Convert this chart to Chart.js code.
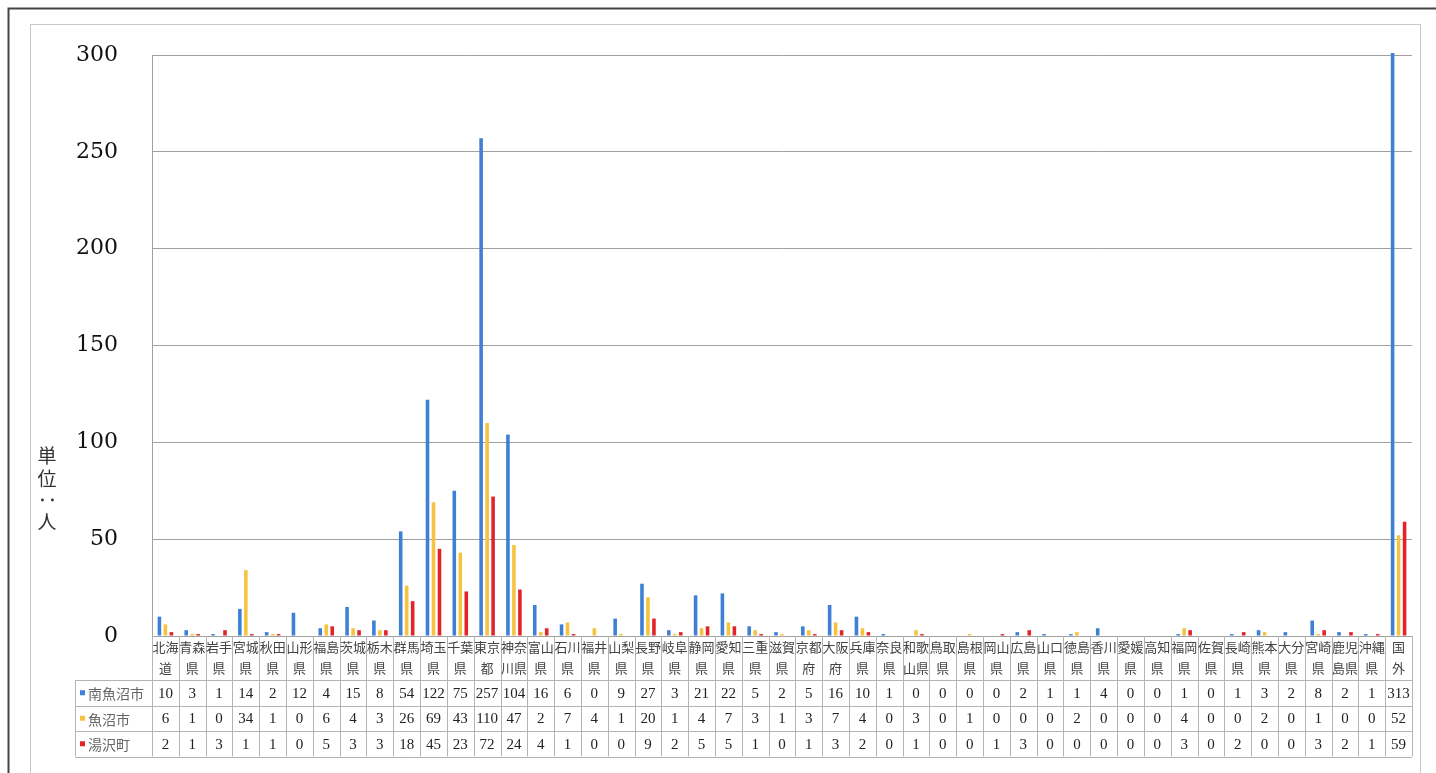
<!DOCTYPE html>
<html>
<head>
<meta charset="utf-8">
<script src="https://cdn.jsdelivr.net/npm/chart.js@4.4.0/dist/chart.umd.min.js"></script>
<style>
    html, body { margin: 0; padding: 0; background: #fff; }
    #wrap { width: 1436px; height: 773px; }
</style>
</head>
<body>
<div id="wrap"><canvas id="chart" width="1436" height="773" style="width:1436px;height:773px"></canvas></div>
<script>
// ========================================
// Data
// ========================================

// each label is split in two lines, as in the table header
const categories = [
    ['北海', '道'], ['青森', '県'], ['岩手', '県'], ['宮城', '県'], ['秋田', '県'], ['山形', '県'],
    ['福島', '県'], ['茨城', '県'], ['栃木', '県'], ['群馬', '県'], ['埼玉', '県'], ['千葉', '県'],
    ['東京', '都'], ['神奈', '川県'], ['富山', '県'], ['石川', '県'], ['福井', '県'], ['山梨', '県'],
    ['長野', '県'], ['岐阜', '県'], ['静岡', '県'], ['愛知', '県'], ['三重', '県'], ['滋賀', '県'],
    ['京都', '府'], ['大阪', '府'], ['兵庫', '県'], ['奈良', '県'], ['和歌', '山県'], ['鳥取', '県'],
    ['島根', '県'], ['岡山', '県'], ['広島', '県'], ['山口', '県'], ['徳島', '県'], ['香川', '県'],
    ['愛媛', '県'], ['高知', '県'], ['福岡', '県'], ['佐賀', '県'], ['長崎', '県'], ['熊本', '県'],
    ['大分', '県'], ['宮崎', '県'], ['鹿児', '島県'], ['沖縄', '県'], ['国', '外']
];

const seriesNames = ['南魚沼市', '魚沼市', '湯沢町'];

const minamiUonuma = [10, 3, 1, 14, 2, 12, 4, 15, 8, 54, 122, 75, 257, 104, 16, 6, 0, 9, 27, 3, 21, 22,
    5, 2, 5, 16, 10, 1, 0, 0, 0, 0, 2, 1, 1, 4, 0, 0, 1, 0, 1, 3, 2, 8, 2, 1, 313];
const uonuma = [6, 1, 0, 34, 1, 0, 6, 4, 3, 26, 69, 43, 110, 47, 2, 7, 4, 1, 20, 1, 4, 7,
    3, 1, 3, 7, 4, 0, 3, 0, 1, 0, 0, 0, 2, 0, 0, 0, 4, 0, 0, 2, 0, 1, 0, 0, 52];
const yuzawa = [2, 1, 3, 1, 1, 0, 5, 3, 3, 18, 45, 23, 72, 24, 4, 1, 0, 0, 9, 2, 5, 5,
    1, 0, 1, 3, 2, 0, 1, 0, 0, 1, 3, 0, 0, 0, 0, 0, 3, 0, 2, 0, 0, 3, 2, 1, 59];

const yTicks = [0, 50, 100, 150, 200, 250, 300];
const unitLabel = ['単', '位', '：', '人'];

const seriesColors = ['#3e80d6', '#f6c340', '#e2232a'];
const gridColor = '#a0a0a0';
const tableColor = '#b4b4b4';

// ========================================
// Plugins
// ========================================

// page frame of the scanned sheet
const framePlugin = {
    id: 'frame',
    beforeDraw(chart) {
        const ctx = chart.ctx;
        ctx.save();
        ctx.fillStyle = '#fff';
        ctx.fillRect(0, 0, chart.width, chart.height);
        ctx.strokeStyle = '#444';
        ctx.lineWidth = 2;
        ctx.beginPath();
        ctx.moveTo(8.5, chart.height);
        ctx.lineTo(8.5, 8.5);
        ctx.lineTo(chart.width, 8.5);
        ctx.stroke();
        ctx.strokeStyle = '#c8c8c8';
        ctx.lineWidth = 1;
        ctx.strokeRect(30.5, 24.5, 1390, 760);
        ctx.restore();
    }
};

// vertical unit label on the left
const unitPlugin = {
    id: 'unit',
    afterDraw(chart) {
        const ctx = chart.ctx;
        ctx.save();
        ctx.fillStyle = '#333';
        ctx.font = '19px "Noto Sans CJK JP"';
        ctx.textAlign = 'center';
        ctx.textBaseline = 'middle';
        const ys = [456, 479, 500, 522];
        unitLabel.forEach((ch, i) => {
            if (ch === '：') {
                ctx.save();
                ctx.translate(47, ys[i]);
                ctx.rotate(Math.PI / 2);
                ctx.fillText(ch, 0, 0);
                ctx.restore();
            } else {
                ctx.fillText(ch, 47, ys[i]);
            }
        });
        ctx.restore();
    }
};

// data table under the plot: header labels + one row per series
const tablePlugin = {
    id: 'dataTable',
    afterDraw(chart) {
        const ctx = chart.ctx;
        const xs = chart.scales.x;
        const area = chart.chartArea;
        const colW = xs.getPixelForValue(1) - xs.getPixelForValue(0);
        const headerBottom = area.bottom + 44;
        const rowH = 25.5;
        const tableBottom = headerBottom + rowH * seriesNames.length;
        const legendLeft = 75;
        const rows = [minamiUonuma, uonuma, yuzawa];

        ctx.save();
        ctx.strokeStyle = tableColor;
        ctx.lineWidth = 1;
        ctx.beginPath();
        // column borders
        for (let i = 0; i <= categories.length; i++) {
            const x = Math.round(xs.getPixelForValue(i) - colW / 2) + 0.5;
            ctx.moveTo(x, area.bottom);
            ctx.lineTo(x, tableBottom);
        }
        // row borders
        for (let r = 0; r <= seriesNames.length; r++) {
            const y = Math.round(headerBottom + r * rowH) + 0.5;
            ctx.moveTo(legendLeft, y);
            ctx.lineTo(area.right, y);
        }
        ctx.moveTo(legendLeft + 0.5, headerBottom);
        ctx.lineTo(legendLeft + 0.5, tableBottom);
        ctx.stroke();

        // header labels
        ctx.fillStyle = '#444';
        ctx.font = '13px "Noto Sans CJK JP"';
        ctx.textAlign = 'center';
        ctx.textBaseline = 'middle';
        categories.forEach((lines, i) => {
            const cx = xs.getPixelForValue(i);
            ctx.fillText(lines[0], cx, area.bottom + 11);
            ctx.fillText(lines[1], cx, area.bottom + 32);
        });

        // values
        ctx.fillStyle = '#222';
        ctx.font = '15px "Liberation Serif"';
        rows.forEach((vals, r) => {
            const cy = headerBottom + r * rowH + rowH / 2 + 1;
            vals.forEach((v, i) => {
                ctx.fillText(String(v), xs.getPixelForValue(i), cy);
            });
        });

        // legend keys
        ctx.textAlign = 'left';
        ctx.font = '14px "Noto Sans CJK JP"';
        seriesNames.forEach((name, r) => {
            const cy = headerBottom + r * rowH + rowH / 2;
            ctx.fillStyle = seriesColors[r];
            ctx.fillRect(80, cy - 2.5, 5, 5);
            ctx.fillStyle = '#666';
            ctx.fillText(name, 88, cy + 1);
        });
        ctx.restore();
    }
};

// ========================================
// Chart
// ========================================

const datasets = [minamiUonuma, uonuma, yuzawa].map((values, i) => ({
    label: seriesNames[i],
    data: values,
    backgroundColor: seriesColors[i],
    borderWidth: 0,
    categoryPercentage: 0.67,
    barPercentage: 0.6,
    clip: 2
}));

new Chart(document.getElementById('chart'), {
    type: 'bar',
    data: {
        labels: categories,
        datasets: datasets
    },
    options: {
        responsive: false,
        animation: false,
        devicePixelRatio: 1,
        layout: { padding: { top: 55, bottom: 137, left: 0, right: 24 } },
        plugins: {
            legend: { display: false },
            tooltip: { enabled: false }
        },
        scales: {
            x: {
                display: false
            },
            y: {
                min: yTicks[0],
                max: yTicks[yTicks.length - 1],
                afterFit: scale => { scale.width = 152; },
                afterBuildTicks: scale => { scale.ticks = yTicks.map(v => ({ value: v })); },
                ticks: {
                    padding: 34,
                    color: '#111',
                    font: { family: '"DejaVu Serif"', size: 22 }
                },
                grid: { color: gridColor, lineWidth: 1, drawTicks: false },
                border: { display: true, color: gridColor }
            }
        }
    },
    plugins: [framePlugin, tablePlugin, unitPlugin]
});
</script>
</body>
</html>
